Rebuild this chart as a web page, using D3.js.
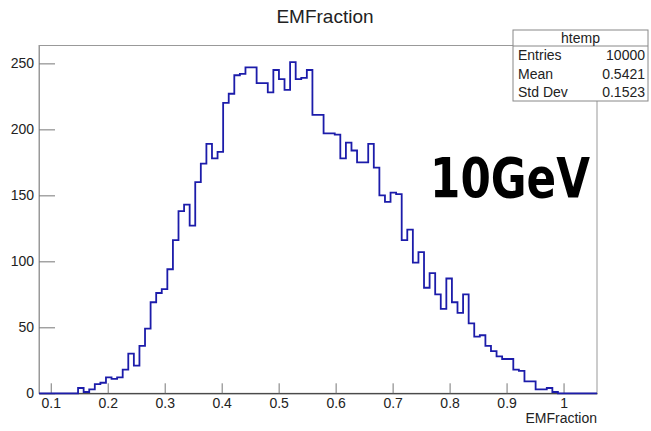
<!DOCTYPE html>
<html>
<head>
<meta charset="utf-8">
<script src="https://cdn.jsdelivr.net/npm/d3@7"></script>
<style>
  html, body { margin: 0; padding: 0; background: #fff; }
  svg { display: block; font-family: "Liberation Sans", Arial, Helvetica, sans-serif; }
</style>
</head>
<body>
<div id="chart"></div>
<script>
// Histogram content (100 bins of EMFraction)
const binCounts = [
  0, 0, 0, 0, 0, 0, 0, 4, 1, 3,
  7, 8, 12, 11, 12, 18, 30, 21, 36, 49,
  69, 76, 79, 94, 116, 138, 143, 127, 160, 174,
  189, 178, 183, 220, 227, 241, 242, 247, 247, 235,
  235, 228, 245, 238, 230, 251, 238, 239, 245, 211,
  211, 197, 197, 196, 178, 190, 184, 175, 175, 189,
  171, 150, 145, 152, 151, 116, 124, 99, 107, 80,
  91, 75, 64, 87, 69, 61, 75, 53, 43, 44,
  36, 32, 28, 26, 26, 18, 17, 9, 9, 3,
  3, 4, 1, 0, 0, 0, 0, 0, 0, 0
];
const xDomain = [0.0794, 1.0587];
const xTicks = [0.1, 0.2, 0.3, 0.4, 0.5, 0.6, 0.7, 0.8, 0.9, 1];
const yTicks = [0, 50, 100, 150, 200, 250];
const statsTitle = 'htemp';
const statsLabels = ['Entries', 'Mean', 'Std Dev'];
const statsValues = ['10000', '0.5421', '0.1523'];
const chartTitle = 'EMFraction';
const xTitle = 'EMFraction';
const note = '10GeV';

const width = 651, height = 431;
const frame = { left: 39, right: 597, top: 45.5, bottom: 393.3 };

const svg = d3.select('#chart').append('svg')
  .attr('width', width)
  .attr('height', height);

const x = d3.scaleLinear().domain(xDomain).range([frame.left, frame.right]);
const yMax = d3.max(binCounts) * 1.05;
const y = d3.scaleLinear().domain([0, yMax]).range([frame.bottom, frame.top]);

// Frame
svg.append('rect')
  .attr('x', frame.left).attr('y', frame.top)
  .attr('width', frame.right - frame.left)
  .attr('height', frame.bottom - frame.top)
  .attr('fill', 'none')
  .attr('stroke', '#999')
  .attr('stroke-width', 1);

// Minor tick values
const binW = (xDomain[1] - xDomain[0]) / binCounts.length;
const xMinor = d3.range(0.08, 1.06, 0.02).filter(v => Math.abs(v * 10 - Math.round(v * 10)) > 1e-6);
const yMinor = d3.range(10, yMax, 10).filter(v => v % 50 !== 0);

// X axis
const xAxisG = svg.append('g').attr('transform', `translate(0,${frame.bottom})`);
xAxisG.call(d3.axisBottom(x).tickValues(xMinor).tickSize(-5).tickFormat(''));
xAxisG.call(d3.axisBottom(x).tickValues(xTicks).tickSizeInner(-10).tickSizeOuter(0).tickPadding(6)
  .tickFormat(d => d3.format('')(+d.toFixed(1))));
xAxisG.selectAll('.domain').attr('stroke', '#222');
xAxisG.selectAll('.tick line').attr('stroke', '#777');
xAxisG.selectAll('.tick text')
  .attr('font-size', 14)
  .attr('font-family', '"Liberation Sans", Arial, sans-serif')
  .attr('fill', '#222')
  .attr('dy', '0.6em');

// Y axis
const yAxisG = svg.append('g').attr('transform', `translate(${frame.left},0)`);
yAxisG.call(d3.axisLeft(y).tickValues(yMinor).tickSize(-8).tickFormat(''));
yAxisG.call(d3.axisLeft(y).tickValues(yTicks).tickSizeInner(-16).tickSizeOuter(0).tickPadding(6));
yAxisG.selectAll('.domain').attr('stroke', '#999');
yAxisG.selectAll('.tick line').attr('stroke', '#777');
yAxisG.selectAll('.tick text')
  .attr('font-size', 14)
  .attr('font-family', '"Liberation Sans", Arial, sans-serif')
  .attr('fill', '#222')
  .attr('x', -5);

// Histogram outline
const pts = [];
pts.push([x(xDomain[0]), y(0)]);
binCounts.forEach((c, i) => {
  const x0 = xDomain[0] + i * binW;
  pts.push([x(x0), y(c)]);
  pts.push([x(x0 + binW), y(c)]);
});
pts.push([x(xDomain[1]), y(0)]);

svg.append('path')
  .attr('d', d3.line()(pts))
  .attr('fill', 'none')
  .attr('stroke', '#1c1caa')
  .attr('stroke-width', 1.8)
  .attr('stroke-linejoin', 'miter');

// Titles
svg.append('text')
  .attr('x', 325).attr('y', 23)
  .attr('text-anchor', 'middle')
  .attr('font-size', 19)
  .attr('fill', '#222')
  .text(chartTitle);

svg.append('text')
  .attr('x', frame.right).attr('y', 423)
  .attr('text-anchor', 'end')
  .attr('font-size', 14)
  .attr('fill', '#222')
  .text(xTitle);

// Stats box
const sb = { x: 513, y: 30, w: 135, h: 71, head: 16 };
const stats = svg.append('g');
stats.append('rect')
  .attr('x', sb.x).attr('y', sb.y)
  .attr('width', sb.w).attr('height', sb.h)
  .attr('fill', '#fff')
  .attr('stroke', '#888');
stats.append('line')
  .attr('x1', sb.x).attr('x2', sb.x + sb.w)
  .attr('y1', sb.y + sb.head).attr('y2', sb.y + sb.head)
  .attr('stroke', '#888');
stats.append('text')
  .attr('x', sb.x + sb.w / 2).attr('y', sb.y + 13)
  .attr('text-anchor', 'middle')
  .attr('font-size', 14)
  .attr('fill', '#222')
  .text(statsTitle);
const rowH = (sb.h - sb.head) / statsLabels.length;
statsLabels.forEach((lab, i) => {
  const ty = sb.y + sb.head + rowH * (i + 0.5) + 5;
  stats.append('text')
    .attr('x', sb.x + 5).attr('y', ty)
    .attr('font-size', 14).attr('fill', '#222')
    .text(lab);
  stats.append('text')
    .attr('x', sb.x + sb.w - 3).attr('y', ty)
    .attr('text-anchor', 'end')
    .attr('font-size', 14).attr('fill', '#222')
    .text(statsValues[i]);
});

// Energy label
svg.append('text')
  .attr('x', 430).attr('y', 197)
  .attr('font-family', '"DejaVu Sans", sans-serif')
  .attr('font-weight', 'bold')
  .attr('font-size', 56)
  .attr('textLength', 160)
  .attr('lengthAdjust', 'spacingAndGlyphs')
  .attr('fill', '#000')
  .text(note);
</script>
</body>
</html>
